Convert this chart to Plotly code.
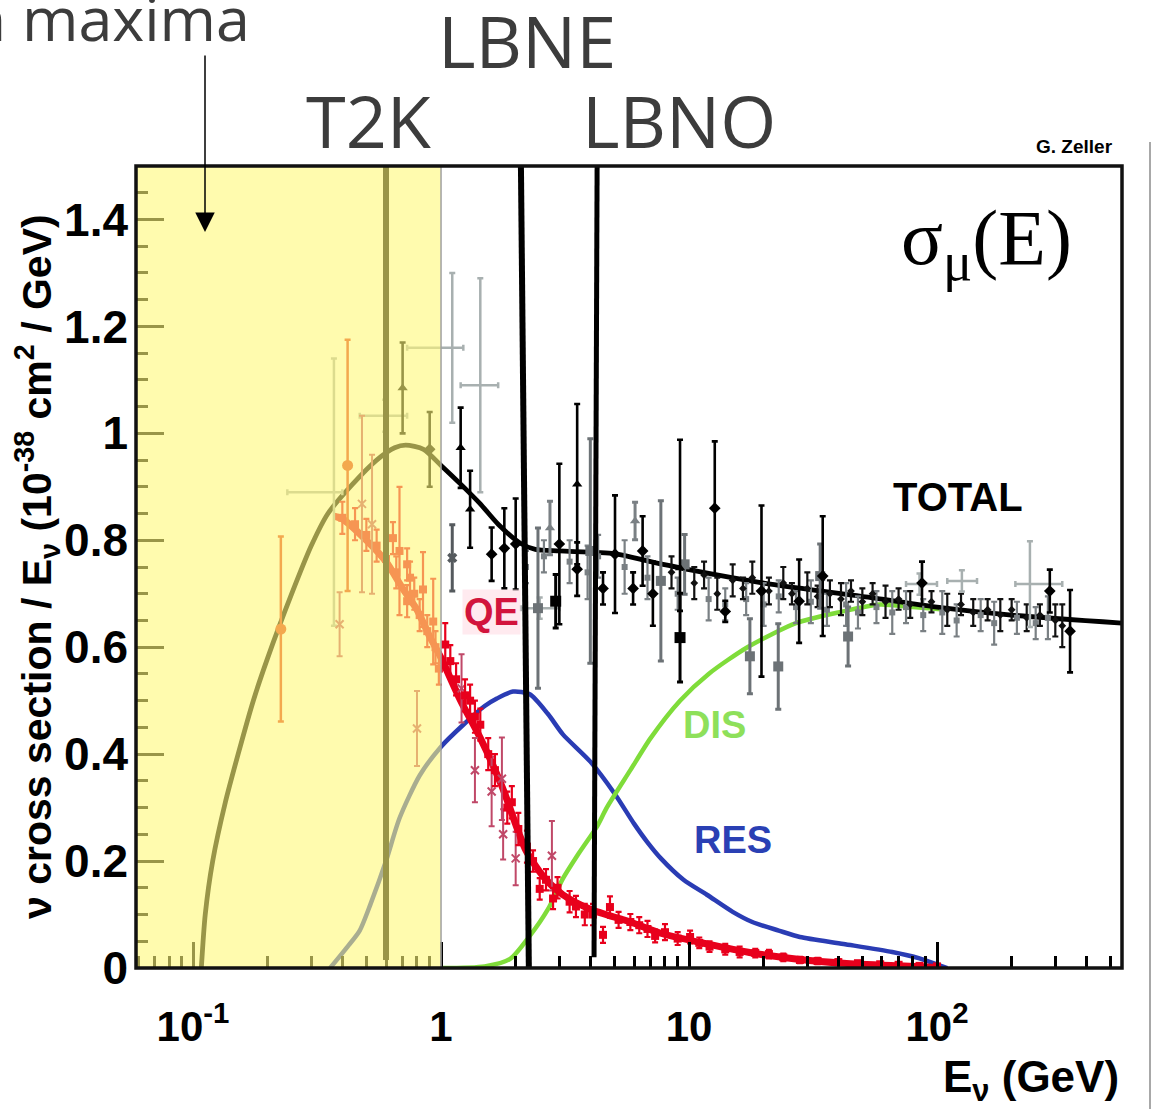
import plotly.graph_objects as go

# ---------------- data ----------------
# model curves: neutrino energy (GeV) and cross section / E (1e-38 cm^2/GeV)
TOTAL_E = [0.108, 0.112, 0.12, 0.135, 0.152, 0.175, 0.2, 0.25, 0.3, 0.35, 0.44, 0.55, 0.65, 0.72, 0.85,
           1.0, 1.2, 1.44, 1.7, 2.08, 2.4, 3.0, 5.0, 7.0, 10, 20, 60, 100, 200, 557]
TOTAL_XS = [0, 0.10, 0.20, 0.31, 0.40, 0.50, 0.58, 0.70, 0.79, 0.85, 0.905, 0.95, 0.973, 0.978, 0.97,
            0.94, 0.905, 0.868, 0.83, 0.795, 0.783, 0.78, 0.775, 0.76, 0.745, 0.72, 0.69, 0.675, 0.66, 0.645]

QE_E = [0.37, 0.4, 0.5, 0.6, 0.7, 0.8, 0.9, 1.0, 1.2, 1.44, 1.76,
        2.2, 2.6, 3.1, 4.0, 5.8, 7.7, 11.8, 18, 28, 42, 70, 100]
QE_XS = [0.845, 0.84, 0.80, 0.76, 0.71, 0.67, 0.62, 0.58, 0.50, 0.43, 0.34,
         0.22, 0.17, 0.137, 0.11, 0.086, 0.065, 0.045, 0.028, 0.016, 0.009, 0.004, 0.001]

RES_E = [0.357, 0.42, 0.47, 0.52, 0.6, 0.68, 0.82, 1.0, 1.23, 1.5, 1.68, 1.95, 2.28, 2.7, 3.1, 4.0, 5.03,
         6.0, 6.8, 7.7, 9.5, 11.8, 15, 18, 23, 28, 42, 66, 85, 101, 110]
RES_XS = [0, 0.04, 0.07, 0.12, 0.20, 0.28, 0.36, 0.414, 0.455, 0.49, 0.504, 0.517, 0.512, 0.475, 0.437,
          0.386, 0.325, 0.27, 0.235, 0.205, 0.165, 0.137, 0.105, 0.086, 0.07, 0.058, 0.045, 0.03, 0.018, 0.006, 0]

DIS_E = [1.0, 1.5, 1.9, 2.28, 2.7, 3.1, 3.6, 4.26, 4.66, 5.8, 7.0, 9.2, 12, 17.2, 27, 40, 58.6, 80, 110]
DIS_XS = [0, 0.003, 0.017, 0.06, 0.11, 0.167, 0.215, 0.265, 0.30, 0.37, 0.43, 0.50, 0.55, 0.60, 0.645,
          0.665, 0.68, 0.675, 0.67]

# QE data (red squares)
RED_E = [0.40, 0.45, 0.5, 0.55, 0.6, 0.64, 0.66, 0.68, 0.73, 0.75, 0.73, 0.78, 0.82, 0.846, 0.88, 0.93, 0.95,
         0.98, 1.04, 1.09, 1.15, 1.25, 1.31, 1.37, 1.44, 1.55, 1.65, 1.85, 1.93, 2.05, 2.22, 2.35, 2.5, 2.65,
         2.83, 2.95, 3.3, 3.5, 3.8, 4.1, 4.5, 4.8, 5.2, 5.8, 6.3, 6.8, 7.3, 8.0, 9.0, 10.1, 11, 12.1, 14, 16,
         18.5, 21, 24, 28, 33, 40, 48, 59, 70, 85, 100]
RED_XS = [0.842, 0.83, 0.81, 0.79, 0.765, 0.804, 0.74, 0.78, 0.755, 0.73, 0.686, 0.70, 0.66, 0.708, 0.63,
          0.648, 0.60, 0.56, 0.605, 0.574, 0.54, 0.51, 0.50, 0.47, 0.455, 0.40, 0.37, 0.30, 0.31, 0.26, 0.227,
          0.20, 0.148, 0.165, 0.13, 0.15, 0.124, 0.115, 0.10, 0.10, 0.062, 0.114, 0.09, 0.086, 0.08, 0.073,
          0.06, 0.067, 0.055, 0.058, 0.047, 0.04, 0.035, 0.03, 0.028, 0.026, 0.02, 0.015, 0.013, 0.011, 0.009,
          0.007, 0.006, 0.004, 0.003]
RED_ERR = [0.03, 0.03, 0.03, 0.03, 0.03, 0.03, 0.03, 0.12, 0.03, 0.03, 0.03, 0.03, 0.03, 0.07, 0.03, 0.08,
           0.03, 0.03, 0.04, 0.03, 0.03, 0.03, 0.03, 0.03, 0.03, 0.03, 0.03, 0.03, 0.03, 0.03, 0.03, 0.02,
           0.02, 0.02, 0.02, 0.02, 0.02, 0.02, 0.02, 0.02, 0.015, 0.02, 0.015, 0.015, 0.015, 0.015, 0.012,
           0.015, 0.012, 0.012, 0.01, 0.01, 0.01, 0.01, 0.008, 0.008, 0.007, 0.006, 0.006, 0.005, 0.004,
           0.004, 0.003, 0.003, 0.003]

# older QE data (red circles)
ANL_E = [0.226, 0.42]
ANL_XS = [0.634, 0.94]
ANL_ERR = [0.173, 0.235]

# other QE data (dark pink)
PINK_E = [0.39, 0.48, 0.527, 0.80, 1.21, 1.37, 1.6, 1.76, 1.78, 2.0, 2.8]
PINK_XS = [0.643, 0.868, 0.83, 0.448, 0.523, 0.37, 0.33, 0.354, 0.25, 0.205, 0.21]
PINK_ERR = [0.06, 0.165, 0.13, 0.07, 0.064, 0.06, 0.065, 0.077, 0.047, 0.05, 0.065]

# total cross section data
BTRI_E = [0.70, 1.2, 1.31, 3.54, 9.2]
BTRI_XS = [1.085, 0.973, 0.858, 0.905, 0.748]
BTRI_EP = [0.085, 0.075, 0.072, 0.15, 0.24]
BTRI_EM = [0.085, 0.075, 0.072, 0.15, 0.08]

GTRI_E = [2.75, 6.06]
GTRI_XS = [0.823, 0.836]
GTRI_ERR = [0.05, 0.035]

BDOT_E = [0.9, 1.6, 1.8, 2.0, 3.0, 3.54, 4.5, 5.03, 5.95, 6.5, 7.15, 12.7, 14, 19.6, 27.8, 34.6, 87, 285, 344]
BDOT_XS = [0.97, 0.774, 0.785, 0.793, 0.793, 0.746, 0.71, 0.774, 0.71, 0.78, 0.70, 0.86, 0.667, 0.705,
           0.686, 0.733, 0.72, 0.705, 0.63]
BDOT_ERR = [0.07, 0.05, 0.075, 0.085, 0.15, 0.05, 0.03, 0.11, 0.03, 0.065, 0.06, 0.125, 0.02, 0.16, 0.078,
            0.112, 0.04, 0.04, 0.077]

BSQ_E = [2.9, 9.2]
BSQ_XS = [0.686, 0.618]
BSQ_ERR = [0.05, 0.083]

GX_E = [1.11]
GX_XS = [0.767]
GX_ERR = [0.062]

GSQ_E = [2.46, 4.0, 7.7, 9.6, 17.6, 22.9, 33.8, 43.8]
GSQ_XS = [0.673, 0.78, 0.724, 0.755, 0.583, 0.564, 0.733, 0.62]
GSQ_ERR = [0.15, 0.21, 0.15, 0.056, 0.07, 0.08, 0.06, 0.055]

LG_E = [0.37, 0.595, 1.11, 1.44, 2.5, 85, 126, 237]
LG_XS = [0.89, 1.033, 1.16, 1.09, 0.673, 0.718, 0.724, 0.718]
LG_YERR = [0.25, 0.03, 0.14, 0.20, 0.02, 0.02, 0.02, 0.08]
LG_XM = [0.13, 0.125, 0.38, 0.24, 0.4, 10, 16, 30]
LG_XP = [0.03, 0.135, 0.12, 0.26, 0.5, 15, 19, 83]

BSM_E = [8.5, 10.5, 11.5, 13, 15, 16.5, 18, 21, 24, 26, 30, 33, 37, 41, 45, 50, 55, 62, 70, 78, 95, 110, 125,
         140, 160, 180, 200, 230, 260, 300, 320]
BSM_XS = [0.74, 0.72, 0.735, 0.70, 0.725, 0.71, 0.73, 0.705, 0.72, 0.70, 0.71, 0.695, 0.70, 0.69, 0.705, 0.685,
          0.70, 0.685, 0.69, 0.68, 0.685, 0.67, 0.68, 0.665, 0.67, 0.66, 0.67, 0.655, 0.66, 0.65, 0.64]
BSM_ERR = [0.03, 0.03, 0.025, 0.03, 0.03, 0.02, 0.03, 0.025, 0.03, 0.02, 0.03, 0.02, 0.025, 0.03, 0.02, 0.025,
           0.02, 0.03, 0.02, 0.025, 0.02, 0.03, 0.02, 0.025, 0.02, 0.03, 0.02, 0.025, 0.02, 0.03, 0.04]

GSM_E = [2.2, 2.6, 3.3, 3.9, 4.3, 5.5, 6.8, 9, 12, 14, 17, 20, 23, 27, 31, 36, 43, 48, 57, 66, 75, 88, 105,
         120, 150, 170, 210, 250, 280]
GSM_XS = [0.75, 0.77, 0.76, 0.74, 0.77, 0.75, 0.73, 0.70, 0.69, 0.68, 0.69, 0.68, 0.695, 0.675, 0.685, 0.67,
          0.68, 0.665, 0.675, 0.665, 0.675, 0.66, 0.665, 0.65, 0.66, 0.645, 0.655, 0.645, 0.655]
GSM_ERR = [0.03, 0.03, 0.04, 0.05, 0.04, 0.05, 0.04, 0.03, 0.04, 0.03, 0.03, 0.04, 0.03, 0.03, 0.04, 0.03,
           0.04, 0.03, 0.03, 0.04, 0.03, 0.03, 0.04, 0.03, 0.03, 0.04, 0.03, 0.03, 0.04]

X_TICKS = [0.1, 1, 10, 100]
X_TICKTEXT = ["10<sup>-1</sup>", "1", "10", "10<sup>2</sup>"]
X_MINOR = [0.06, 0.07, 0.08, 0.09, 0.2, 0.3, 0.4, 0.5, 0.6, 0.7, 0.8, 0.9, 2, 3, 4, 5, 6, 7, 8, 9,
           20, 30, 40, 50, 60, 70, 80, 90, 200, 300, 400, 500]
Y_TICKS = [0, 0.2, 0.4, 0.6, 0.8, 1.0, 1.2, 1.4]
Y_TICKTEXT = ["0", "0.2", "0.4", "0.6", "0.8", "1", "1.2", "1.4"]

EXP_LINES = {"T2K": 0.6, "LBNE": (2.26, 2.10), "LBNO": (4.14, 4.26)}

# ---------------- layout geometry ----------------
W, H = 1154, 1109
ML, MR, MT, MB = 136, 32, 166, 141
PW, PH = W - ML - MR, H - MT - MB
XRANGE = [-1.23, 2.746]
YRANGE = [0, 1.5]


def pxx(xp):
    return (xp - ML) / PW


def pxy(yp):
    return (H - MB - yp) / PH


SANS = "Liberation Sans, Arial, Helvetica, sans-serif"
SERIF = "Liberation Serif, Times New Roman, serif"
UI = "Open Sans, Noto Sans, sans-serif"

fig = go.Figure()


def curve(x, y, color, width):
    fig.add_trace(go.Scatter(x=x, y=y, mode="lines", hoverinfo="skip", showlegend=False,
                             line=dict(color=color, width=width, shape="spline", smoothing=0.7)))


def data(x, y, ep, color, symbol, size, em=None, xm=None, xp=None, thick=2.2, ecolor=None, mline=None):
    ey = dict(type="data", array=ep, arrayminus=em if em is not None else ep, symmetric=False,
              color=ecolor or color, thickness=thick, width=3)
    tr = dict(x=x, y=y, mode="markers", hoverinfo="skip", showlegend=False,
              marker=dict(symbol=symbol, size=size, color=color,
                          line=dict(width=mline or 0, color=ecolor or color)),
              error_y=ey)
    if xm is not None:
        tr["error_x"] = dict(type="data", array=xp, arrayminus=xm, symmetric=False,
                             color=ecolor or color, thickness=thick, width=3)
    fig.add_trace(go.Scatter(**tr))


curve(RES_E, RES_XS, "#2a3cb4", 4.5)
curve(DIS_E, DIS_XS, "#7fdc3a", 4.5)
curve(QE_E, QE_XS, "#e8001c", 7)
curve(TOTAL_E, TOTAL_XS, "#000000", 4.8)

data(GSM_E, GSM_XS, GSM_ERR, "#7a8084", "square", 6, thick=2.2)
data(BSM_E, BSM_XS, BSM_ERR, "#111111", "diamond", 6, thick=2.2)
data(LG_E, LG_XS, LG_YERR, "#a8b0b0", "line-ew", 4, xm=LG_XM, xp=LG_XP, thick=2.5)
data(GSQ_E, GSQ_XS, GSQ_ERR, "#6c7276", "square", 10, thick=3)
data(PINK_E, PINK_XS, PINK_ERR, "#c04868", "x-thin-open", 8, thick=2, mline=2)
data(RED_E, RED_XS, RED_ERR, "#e8001c", "square", 8, thick=2.2)
data(ANL_E, ANL_XS, ANL_ERR, "#e03010", "circle", 11, thick=2.5)
data(GX_E, GX_XS, GX_ERR, "#555a5e", "x", 9, thick=3)
data(BSQ_E, BSQ_XS, BSQ_ERR, "#000000", "square", 11, thick=3)
data(GTRI_E, GTRI_XS, GTRI_ERR, "#7a8084", "triangle-up", 9, thick=3)
data(BDOT_E, BDOT_XS, BDOT_ERR, "#000000", "diamond", 9, thick=2.6)
data(BTRI_E, BTRI_XS, BTRI_EP, "#000000", "triangle-up", 9, em=BTRI_EM, thick=2.6)

x_lo = 10 ** XRANGE[0]
shapes = [
    # T2K line (under the yellow band)
    dict(type="line", xref="x", yref="y", x0=EXP_LINES["T2K"], x1=EXP_LINES["T2K"], y0=0.015, y1=1.5,
         line=dict(color="black", width=6), layer="above"),
    # yellow band below 1 GeV
    dict(type="rect", xref="x", yref="y", x0=x_lo, x1=1.0, y0=0, y1=1.5, fillcolor="rgb(255,248,120)",
         opacity=0.6, line=dict(width=0), layer="above"),
    dict(type="line", xref="x", yref="y", x0=1.0, x1=1.0, y0=0, y1=1.5,
         line=dict(color="#a0a0a0", width=1.5), layer="above"),
    dict(type="line", xref="x", yref="y", x0=EXP_LINES["LBNE"][0], x1=EXP_LINES["LBNE"][1], y0=0, y1=1.5,
         line=dict(color="black", width=6), layer="above"),
    dict(type="line", xref="x", yref="y", x0=EXP_LINES["LBNO"][0], x1=EXP_LINES["LBNO"][1], y0=0.02, y1=1.5,
         line=dict(color="black", width=5), layer="above"),
    # frame
    dict(type="rect", xref="paper", yref="paper", x0=0, x1=1, y0=0, y1=1,
         line=dict(color="#111111", width=3.5), layer="above"),
    # grey edge line at far right
    dict(type="line", xref="paper", yref="paper", x0=pxx(1150), x1=pxx(1150), y0=pxy(1109), y1=pxy(142),
         line=dict(color="#a8a8a8", width=2), layer="above"),
]

ann = []


def text(t, xp, yp, size, color="#000000", family=SANS, weight="bold", xanchor="center", angle=0, bg=None):
    a = dict(text=t, xref="paper", yref="paper", x=pxx(xp), y=pxy(yp), xanchor=xanchor, yanchor="middle",
             showarrow=False, textangle=angle,
             font=dict(size=size, color=color, family=family, weight=weight))
    if bg:
        a["bgcolor"] = bg
    ann.append(a)


text("LBNE", 527, 40, 72, color="#3c3c3c", family=UI, weight="normal")
text("T2K", 369, 120, 72, color="#3c3c3c", family=UI, weight="normal")
text("LBNO", 679, 120, 72, color="#3c3c3c", family=UI, weight="normal")
text("Oscillation maxima", 252, 18, 61, color="#3c3c3c", family=UI, weight="normal", xanchor="right")
text("G. Zeller", 1074, 146, 19)
text("σ<sub>μ</sub>(E)", 986, 243, 78, family=SERIF, weight="normal")
text("TOTAL", 958, 497, 40)
text("QE", 491, 612, 38, color="#d2143c", bg="rgba(255,225,232,0.7)")
text("DIS", 714, 725, 38, color="#8ee05a")
text("RES", 733, 840, 38, color="#2a40b4")
text("ν cross section / E<sub>ν</sub> (10<sup>-38</sup> cm<sup>2</sup> / GeV)", 37, 567, 41, angle=-90)
ann.append(dict(text="E<sub>ν</sub> (GeV)", xref="paper", yref="paper", x=pxx(1121), y=pxy(1080),
                xanchor="right", yanchor="middle", showarrow=False,
                font=dict(size=44, color="black", family=SANS, weight="bold")))
# arrow pointing into the band
ann.append(dict(text="", xref="paper", yref="paper", x=pxx(205), y=pxy(232), ax=0, ay=-178,
                showarrow=True, arrowhead=2, arrowsize=2.6, arrowwidth=1.5, arrowcolor="black"))

fig.update_layout(
    width=W, height=H, margin=dict(l=ML, r=MR, t=MT, b=MB),
    paper_bgcolor="white", plot_bgcolor="white", showlegend=False,
    shapes=shapes, annotations=ann,
    xaxis=dict(type="log", range=XRANGE, showgrid=False, zeroline=False, showline=False,
               tickmode="array", tickvals=X_TICKS, ticktext=X_TICKTEXT,
               ticks="inside", ticklen=26, tickwidth=3, tickcolor="black", ticklabelstandoff=30,
               tickfont=dict(size=42, family=SANS, weight="bold", color="black"),
               minor=dict(tickmode="array", tickvals=X_MINOR, ticks="inside", ticklen=12, tickwidth=2.5,
                          tickcolor="black", showgrid=False)),
    yaxis=dict(range=YRANGE, showgrid=False, zeroline=False, showline=False,
               tickmode="array", tickvals=Y_TICKS, ticktext=Y_TICKTEXT,
               ticks="inside", ticklen=28, tickwidth=3, tickcolor="black", ticklabelstandoff=7,
               tickfont=dict(size=46, family=SANS, weight="bold", color="black"),
               minor=dict(dtick=0.05, ticks="inside", ticklen=12, tickwidth=2.5, tickcolor="black",
                          showgrid=False)),
)

fig.write_html("out.html")
